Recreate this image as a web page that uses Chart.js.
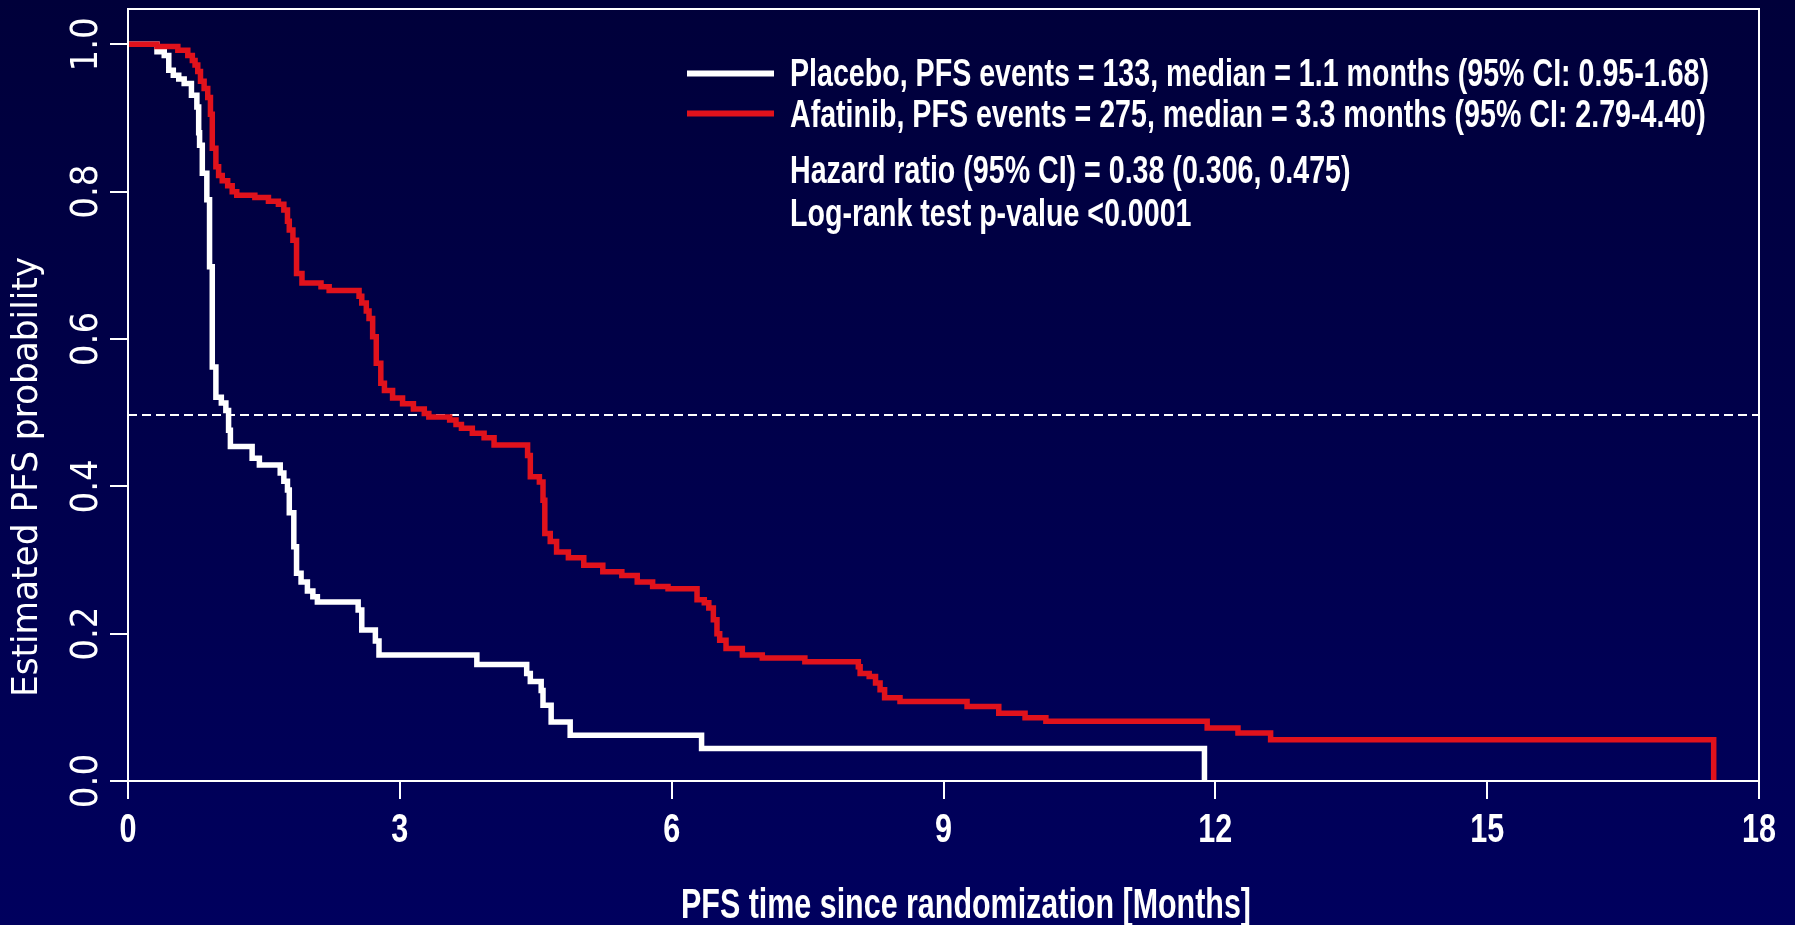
<!DOCTYPE html>
<html>
<head>
<meta charset="utf-8">
<title>PFS Kaplan-Meier</title>
<script src="https://cdn.jsdelivr.net/npm/chart.js@4.4.1/dist/chart.umd.min.js"></script>
<style>
  html, body { margin: 0; padding: 0; }
  body {
    width: 1795px; height: 925px; overflow: hidden;
    background: linear-gradient(to bottom, #00003a 0%, #00005e 100%);
  }
  canvas { display: block; }
</style>
</head>
<body>
<canvas id="km" width="1795" height="925"></canvas>
<script>
// ===== Data =====
var placeboTime = [0, 0.32, 0.40, 0.45, 0.50, 0.56, 0.62, 0.70, 0.76, 0.78, 0.79, 0.82, 0.87, 0.90, 0.93, 0.97,
  1.03, 1.08, 1.11, 1.13, 1.37, 1.45, 1.68, 1.72, 1.76, 1.78, 1.83, 1.86, 1.91, 1.98, 2.04, 2.09,
  2.54, 2.58, 2.73, 2.77, 3.85, 4.40, 4.44, 4.56, 4.58, 4.67, 4.88, 6.33, 11.88];
var placeboSurv = [1, 0.990, 0.985, 0.965, 0.958, 0.953, 0.947, 0.931, 0.915, 0.880, 0.863, 0.825, 0.789, 0.698, 0.562, 0.521,
  0.513, 0.503, 0.476, 0.454, 0.438, 0.429, 0.418, 0.407, 0.395, 0.364, 0.318, 0.282, 0.270, 0.258, 0.250, 0.243,
  0.232, 0.205, 0.190, 0.171, 0.158, 0.146, 0.135, 0.123, 0.103, 0.080, 0.062, 0.044, 0];

var afatinibTime = [0, 0.32, 0.55, 0.66, 0.71, 0.74, 0.77, 0.80, 0.84, 0.88, 0.91, 0.93, 0.97, 1.00, 1.04, 1.10, 1.15,
  1.20, 1.40, 1.55, 1.66, 1.72, 1.76, 1.78, 1.82, 1.86, 1.92, 2.13, 2.22, 2.55, 2.58, 2.63, 2.66, 2.70, 2.74,
  2.79, 2.83, 2.92, 3.03, 3.15, 3.27, 3.32, 3.55, 3.62, 3.68, 3.80, 3.93, 4.04, 4.41, 4.44, 4.54, 4.58, 4.60,
  4.66, 4.73, 4.86, 5.03, 5.24, 5.45, 5.62, 5.79, 5.96, 6.28, 6.36, 6.41, 6.46, 6.50, 6.53, 6.60, 6.78, 7.00,
  7.47, 8.06, 8.08, 8.18, 8.25, 8.30, 8.35, 8.52, 9.26, 9.61, 9.90, 10.13, 11.91, 12.25, 12.61, 17.50];
var afatinibSurv = [1, 0.997, 0.992, 0.985, 0.978, 0.972, 0.963, 0.950, 0.940, 0.928, 0.905, 0.859, 0.834, 0.822, 0.815, 0.808, 0.800,
  0.795, 0.792, 0.787, 0.783, 0.775, 0.760, 0.748, 0.734, 0.689, 0.676, 0.671, 0.666, 0.658, 0.649, 0.638, 0.628, 0.603, 0.567,
  0.540, 0.530, 0.520, 0.512, 0.505, 0.499, 0.494, 0.490, 0.484, 0.479, 0.472, 0.466, 0.456, 0.442, 0.413, 0.406, 0.381, 0.336,
  0.325, 0.311, 0.303, 0.293, 0.284, 0.279, 0.270, 0.264, 0.261, 0.246, 0.242, 0.235, 0.219, 0.200, 0.191, 0.180, 0.171, 0.167,
  0.162, 0.155, 0.146, 0.142, 0.133, 0.124, 0.113, 0.108, 0.101, 0.092, 0.086, 0.081, 0.072, 0.065, 0.056, 0];

// dashed median reference line (sits a hair under 0.5 in the source)
var medianTime = [0, 18];
var medianSurv = [0.497, 0.497];

var xTickLabels = [0, 3, 6, 9, 12, 15, 18];
var yTickLabels = [0, 0.2, 0.4, 0.6, 0.8, 1.0];

var seriesLabels = [
  'Placebo, PFS events = 133, median = 1.1 months (95% CI: 0.95-1.68)',
  'Afatinib, PFS events = 275, median = 3.3 months (95% CI: 2.79-4.40)'
];
var statLines = [
  'Hazard ratio (95% CI) = 0.38 (0.306, 0.475)',
  'Log-rank test p-value <0.0001'
];
var xTitle = 'PFS time since randomization [Months]';
var yTitle = 'Estimated PFS probability';

var RED = '#e0121c';
var WHITE = '#ffffff';
var NARROW = '"Liberation Sans Narrow", "Liberation Sans", sans-serif';
var COND = '"DejaVu Sans Condensed", "DejaVu Sans", sans-serif';

function toPoints(xs, ys) {
  return xs.map(function(x, i) { return { x: x, y: ys[i] }; });
}

// draw text squeezed/stretched to a target width
function fitText(ctx, text, x, y, width) {
  var w = ctx.measureText(text).width;
  ctx.save();
  ctx.translate(x, y);
  ctx.scale(width / w, 1);
  ctx.fillText(text, 0, 0);
  ctx.restore();
}

var overlay = {
  id: 'overlay',
  afterDraw: function(chart) {
    var ctx = chart.ctx, a = chart.chartArea, xs = chart.scales.x, ys = chart.scales.y;
    ctx.save();
    ctx.strokeStyle = WHITE;
    ctx.lineWidth = 2;
    ctx.strokeRect(a.left, a.top, a.right - a.left, a.bottom - a.top);

    ctx.fillStyle = WHITE;
    // y tick labels, rotated like R's default
    ctx.font = '38px ' + COND;
    ctx.textAlign = 'center';
    ctx.textBaseline = 'middle';
    yTickLabels.forEach(function(v) {
      ctx.save();
      ctx.translate(a.left - 41, ys.getPixelForValue(v));
      ctx.rotate(-Math.PI / 2);
      ctx.fillText(v.toFixed(1), 0, 0);
      ctx.restore();
    });

    // x tick labels, condensed
    ctx.font = 'bold 41px ' + NARROW;
    ctx.textBaseline = 'alphabetic';
    xTickLabels.forEach(function(v) {
      var t = String(v);
      var w = ctx.measureText(t).width;
      var s = Math.min(1, (17 * t.length) / w);
      ctx.save();
      ctx.translate(xs.getPixelForValue(v), a.bottom + 61);
      ctx.scale(s, 1);
      ctx.fillText(t, 0, 0);
      ctx.restore();
    });

    // y title
    ctx.font = '36px ' + COND;
    ctx.textAlign = 'left';
    ctx.textBaseline = 'middle';
    ctx.save();
    ctx.translate(28, 697);
    ctx.rotate(-Math.PI / 2);
    fitText(ctx, yTitle, 0, 0, 440);
    ctx.restore();

    // x title
    ctx.font = 'bold 42px ' + NARROW;
    ctx.textBaseline = 'alphabetic';
    fitText(ctx, xTitle, 681, 918, 570);

    // legend
    ctx.lineWidth = 6;
    ctx.strokeStyle = WHITE;
    ctx.beginPath(); ctx.moveTo(687, 73.5); ctx.lineTo(774, 73.5); ctx.stroke();
    ctx.strokeStyle = RED;
    ctx.beginPath(); ctx.moveTo(687, 113.5); ctx.lineTo(774, 113.5); ctx.stroke();

    ctx.font = 'bold 39px ' + NARROW;
    var sx = 919 / ctx.measureText(seriesLabels[0]).width;
    var rows = [[seriesLabels[0], 86], [seriesLabels[1], 127], [statLines[0], 183], [statLines[1], 226]];
    rows.forEach(function(r) {
      fitText(ctx, r[0], 790, r[1], ctx.measureText(r[0]).width * sx);
    });
    ctx.restore();
  }
};

var axisGrid = { display: true, drawOnChartArea: false, drawTicks: true, tickLength: 18, color: WHITE, lineWidth: 2 };
var axisBorder = { display: true, color: WHITE, width: 2 };

new Chart(document.getElementById('km'), {
  type: 'line',
  data: {
    datasets: [
      { label: 'Afatinib', data: toPoints(afatinibTime, afatinibSurv), borderColor: RED, borderWidth: 5.5,
        stepped: true, pointRadius: 0, fill: false, order: 0, borderCapStyle: 'butt', borderJoinStyle: 'miter' },
      { label: 'Placebo', data: toPoints(placeboTime, placeboSurv), borderColor: WHITE, borderWidth: 5.5,
        stepped: true, pointRadius: 0, fill: false, order: 1, borderCapStyle: 'butt', borderJoinStyle: 'miter' },
      { label: 'Median', data: toPoints(medianTime, medianSurv), borderColor: WHITE, borderWidth: 2,
        borderDash: [9, 5], pointRadius: 0, fill: false, order: 2 }
    ]
  },
  options: {
    responsive: false,
    animation: false,
    devicePixelRatio: 1,
    layout: { padding: { left: 110, top: 9, right: 36, bottom: 126 } },
    plugins: { legend: { display: false }, tooltip: { enabled: false } },
    scales: {
      x: {
        type: 'linear', min: 0, max: 18,
        afterBuildTicks: function(s) { s.ticks = xTickLabels.map(function(v) { return { value: v }; }); },
        grid: axisGrid, border: axisBorder,
        ticks: { display: false }
      },
      y: {
        type: 'linear', min: 0, max: 1.048,
        afterBuildTicks: function(s) { s.ticks = yTickLabels.map(function(v) { return { value: v }; }); },
        grid: axisGrid, border: axisBorder,
        ticks: { display: false }
      }
    }
  },
  plugins: [overlay]
});
</script>
</body>
</html>
